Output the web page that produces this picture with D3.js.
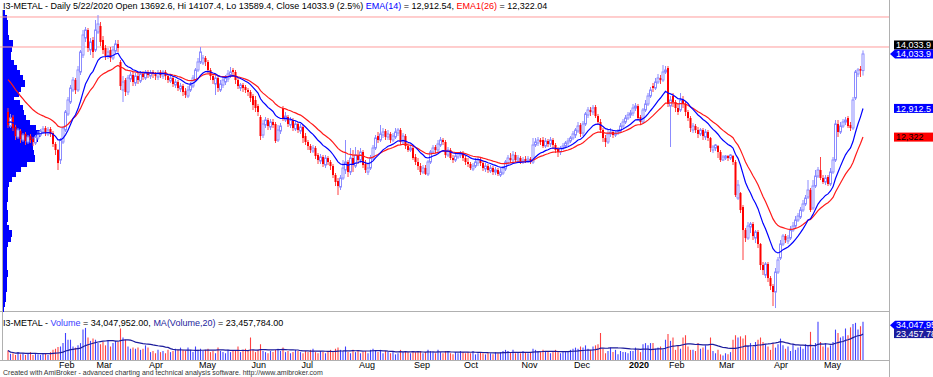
<!DOCTYPE html>
<meta charset="utf-8">
<head>
	<title>I3-METAL - Daily</title>
</head>

<style>
body{
	margin: 0;
	background: #fff;
}
svg{
	display: block;
	font-family: "Liberation Sans", Arial, sans-serif;
}
</style>

<body>

<svg id="chart" width="933" height="377"></svg>

<script src="https://cdnjs.cloudflare.com/ajax/libs/d3/7.8.5/d3.min.js"></script>
<script>

// trading days per month, Jan 2019 .. May 2020
var monthNames = ['Jan', 'Feb', 'Mar', 'Apr', 'May', 'Jun', 'Jul', 'Aug', 'Sep', 'Oct', 'Nov', 'Dec',
	'2020', 'Feb', 'Mar', 'Apr', 'May'];
var monthDays = [22, 15, 21, 20, 21, 20, 23, 22, 20, 23, 21, 22, 16, 20, 22, 20, 15];

var openP = [
	12839,12550,12736,12530,12324,12447,12262,12386,12221,12344,12283,12200,12303,12365,12427,12509,12386,12489,12406,12180,12056,11850,
	12221,12468,12798,13045,13292,13498,13292,13663,14013,14363,14528,14116,14322,14116,14487,
	14610,14322,14157,13992,14116,13951,14095,14240,13869,13292,13498,13251,13519,13601,13436,13580,13477,13622,13539,13663,13580,
	13663,13622,13560,13663,13580,13663,13580,13477,13539,13395,13457,13313,13374,13271,13168,13292,13374,13498,13704,13869,
	13848,13951,13869,13704,13580,13416,13539,13292,13395,13457,13519,13601,13704,13663,13498,13333,13395,13354,13292,13251,13168,
	13086,12962,12736,12365,12571,12674,12530,12633,12592,12262,12447,12921,12674,12736,12571,12674,12489,12592,12447,12530,
	12344,12221,12138,12035,12097,11953,11829,11912,11747,11891,11809,11726,11541,11417,11294,11479,11644,11809,11603,11891,11726,11953,11850,
	12015,11768,11603,11685,11891,12097,12344,12262,12365,12447,12324,12386,12262,12324,12406,12468,12221,12344,12138,12056,12097,11912,
	11809,11726,11603,11685,11562,11809,12015,12118,12056,12159,12262,12221,11953,12056,11891,11850,11912,11953,11994,11891,
	11809,11768,11665,11726,11788,11850,11788,11665,11726,11623,11685,11603,11644,11541,11582,11665,11788,11891,11850,11953,11850,11891,11809,
	11871,11829,11871,11809,12159,12200,12262,12262,12138,12241,12180,12262,12159,12077,12015,12097,12138,12200,12241,12303,12365,
	12447,12571,12406,12592,12777,12880,12839,12942,12756,12633,12468,12303,12221,12386,12427,12365,12406,12447,12550,12633,12715,12777,
	12818,12921,12962,12736,12633,12880,13004,13168,13374,13333,13457,13539,13498,13663,13745,12962,
	13168,13045,12921,12880,13086,13004,12839,12715,12468,12550,12468,12386,12468,12324,12427,12303,12056,12097,12138,12015,
	11850,11891,11932,11891,11932,11809,11067,11170,10882,10408,10243,10470,10532,10243,10367,10120,9687,9481,9708,9419,9254,9131,
	9543,9831,10120,10284,10181,10243,10408,10490,10614,10676,10820,10944,11088,11232,10861,11314,11520,11644,11479,11397,
	11500,11356,11603,11850,12592,12427,12550,12633,12715,12571,12509,13127,13622,13725,13692.6
];
var highP = [
	12921,12798,12777,12592,12509,12489,12406,12427,12365,12386,12324,12365,12447,12489,12550,12550,12530,12530,12447,12221,12077,12303,
	12550,12880,13148,13395,13560,13539,13786,14116,14528,14590,14569,14363,14384,14734,14837,
	14693,14404,14219,14157,14178,14198,14322,14322,13910,13580,13539,13601,13663,13663,13642,13642,13683,13683,13704,13704,13704,
	13704,13663,13704,13704,13704,13704,13622,13601,13580,13519,13498,13436,13416,13333,13374,13457,13601,13745,13951,14178,
	14013,13992,13910,13745,13622,13622,13580,13498,13560,13601,13704,13766,13745,13704,13539,13436,13436,13395,13333,13292,13210,
	13168,13004,12777,12674,12736,12715,12695,12695,12633,12571,12612,12962,12839,12777,12736,12715,12653,12633,12592,12571,
	12406,12262,12180,12159,12138,11994,11974,11953,11953,11932,11850,11768,11582,11479,11541,11850,12262,11850,12097,12056,12118,12056,12097,
	12056,11850,11768,11953,12159,12365,12427,12571,12509,12489,12468,12427,12406,12509,12509,12509,12406,12386,12200,12159,12138,11974,
	11891,11788,11747,11747,11850,12056,12159,12159,12262,12324,12303,12262,12118,12097,11953,11974,12015,12035,12035,11932,
	11891,11809,11788,11891,11912,11891,11850,11788,11768,11747,11726,11706,11685,11685,11726,11850,11953,11994,12035,12015,11953,11932,11912,
	11932,11932,11912,12303,12303,12324,12303,12324,12303,12283,12324,12303,12200,12118,12138,12200,12241,12303,12344,12447,12509,
	12633,12612,12653,12839,12942,12942,12983,12983,12798,12695,12509,12365,12468,12509,12468,12447,12489,12612,12695,12777,12839,12880,
	13004,13024,13004,12777,12921,13086,13230,13354,13436,13539,13622,13601,13807,13786,13786,13168,
	13230,13086,13004,13230,13168,13045,12880,12756,12612,12592,12530,12509,12509,12489,12468,12324,12159,12180,12159,12056,
	11953,11953,11953,11974,11953,11850,11438,11191,10923,10449,10573,10573,10573,10408,10408,10140,9749,9749,9749,9460,9296,9625,
	9852,10202,10326,10326,10305,10490,10573,10696,10758,10882,11026,11129,11438,11273,11438,11644,11706,11912,11541,11541,
	11541,11685,11912,12674,12674,12633,12695,12736,12756,12633,13148,13704,13745,13786,14107.4
];
var lowP = [
	12509,12509,12447,12262,12283,12200,12221,12159,12180,12200,12138,12159,12262,12324,12386,12344,12344,12324,12118,11953,11644,11768,
	12180,12427,12756,13004,13251,13210,13251,13601,13951,14281,14075,14013,13951,14075,14446,
	14198,14034,13910,13931,13869,13910,14034,14075,13292,13045,13168,13189,13457,13374,13374,13416,13436,13498,13498,13539,13519,
	13539,13498,13498,13539,13519,13498,13436,13436,13354,13333,13271,13251,13168,13127,13127,13251,13333,13457,13663,13828,
	13807,13786,13642,13498,13416,13189,13251,13251,13333,13395,13457,13539,13580,13416,13313,13271,13251,13230,13168,13045,12880,
	12839,12756,12262,12303,12509,12468,12468,12509,12200,12221,12386,12653,12633,12530,12509,12447,12447,12406,12386,12200,
	12159,12056,11994,11994,11871,11768,11768,11706,11685,11747,11644,11479,11314,11129,11232,11438,11562,11500,11541,11603,11685,11768,11788,
	11685,11582,11541,11644,11850,12056,12200,12221,12303,12262,12262,12200,12221,12283,12344,12159,12180,12077,12015,12015,11850,11747,
	11644,11541,11562,11541,11520,11768,11974,11994,12015,12118,12159,11891,11912,11850,11788,11809,11871,11891,11829,11747,
	11706,11644,11623,11685,11726,11726,11623,11603,11582,11582,11541,11541,11520,11500,11541,11623,11747,11788,11809,11809,11809,11768,11768,
	11788,11788,11768,11768,12118,12138,12159,12097,12097,12118,12118,12077,11994,11912,11953,12056,12097,12138,12200,12262,12303,
	12406,12324,12344,12550,12715,12756,12777,12715,12571,12406,12221,12118,12180,12324,12303,12324,12365,12406,12509,12592,12674,12715,
	12756,12859,12674,12571,12592,12839,12962,13127,13251,13292,13416,13416,13457,13622,12942,12118,
	12942,12839,12777,12839,12921,12756,12653,12427,12406,12406,12303,12344,12262,12262,12241,12015,11994,12035,11891,11809,
	11829,11850,11829,11850,11747,11088,11026,10758,9790,10161,10202,10346,10202,10140,10037,9584,9481,9419,9337,9172,8842,8801,
	9502,9790,10078,10140,10120,10202,10367,10449,10573,10635,10779,10902,11047,10779,10820,11273,11479,11438,11356,11335,
	11314,11314,11562,11809,12324,12386,12509,12571,12509,12447,12468,13086,13560,13560,13589.4
];
var closeP = [
	12571,12715,12509,12344,12468,12283,12365,12241,12324,12262,12221,12324,12386,12447,12489,12406,12468,12386,12180,12056,11788,12262,
	12509,12839,13086,13333,13498,13292,13704,14075,14425,14528,14157,14281,14075,14528,14652,
	14281,14116,13992,14075,13951,14116,14240,14157,13374,13457,13251,13539,13601,13457,13580,13498,13622,13560,13663,13601,13642,
	13622,13580,13642,13601,13663,13580,13498,13539,13416,13457,13333,13374,13251,13189,13292,13395,13539,13704,13869,14075,
	13951,13869,13704,13580,13498,13539,13333,13416,13498,13539,13622,13663,13663,13498,13374,13395,13333,13292,13251,13127,12983,
	12921,12839,12344,12592,12674,12550,12633,12571,12241,12468,12550,12715,12756,12592,12674,12509,12592,12468,12530,12303,
	12221,12138,12056,12097,11932,11850,11912,11768,11891,11809,11726,11541,11397,11314,11479,11685,11809,11603,11891,11747,11953,11850,12015,
	11747,11644,11685,11891,12097,12303,12262,12386,12427,12324,12386,12262,12344,12427,12468,12221,12344,12138,12056,12097,11891,11809,
	11726,11603,11685,11562,11809,12015,12097,12056,12180,12262,12221,11953,12056,11891,11850,11932,11974,11994,11891,11809,
	11768,11685,11726,11809,11850,11788,11685,11726,11644,11685,11603,11644,11562,11603,11685,11809,11891,11850,11953,11850,11891,11809,11850,
	11829,11871,11809,12159,12221,12262,12221,12138,12241,12180,12262,12159,12056,12015,12097,12138,12200,12241,12303,12386,12468,
	12550,12386,12592,12798,12880,12839,12921,12756,12633,12468,12303,12221,12386,12427,12365,12406,12447,12550,12633,12715,12777,12818,
	12921,12962,12715,12633,12880,13004,13168,13292,13333,13457,13539,13498,13663,13704,13004,13086,
	13045,12921,12839,13086,13004,12839,12715,12509,12550,12468,12386,12468,12344,12427,12303,12097,12118,12159,12015,11850,
	11912,11932,11891,11953,11809,11129,11335,10820,10408,10243,10490,10532,10284,10367,10120,9687,9584,9708,9419,9254,9131,9543,
	9790,10120,10284,10202,10243,10408,10490,10614,10696,10820,10944,11067,11232,10820,11314,11520,11644,11479,11397,11479,
	11356,11603,11850,12592,12427,12550,12633,12674,12550,12509,13086,13663,13704,13692,14033.9
];
// volume, millions of shares
var volume = [
	8.5,5.5,6,4.5,7,5,6,4.5,5.5,7,4.5,6,5,4.5,6,5.5,4.5,7,9,10,11.5,12,
	15,24,18,18,12,11,13,15,27,28.5,20,17,19,18,15,
	14,16,13,17,12,15,17,16,28,20,18,12,10,11,10,11,9,10,13,11,7,
	8,6,9,7,8,6,9,7,8,10,9,11,9,8,11,9,7,12,9,10,
	8,9,10,7,8,6,11,8,7,6,9,7,8,8,12,7,9,10,8,20,9,
	7,9,14,8,7,6,8,7,9,10,8,11,7,8,6,7,9,8,7,6,
	8,7,9,10,7,6,8,7,6,8,9,8,10,11,9,8,12,7,6,9,7,8,6,
	7,8,6,9,10,8,7,9,6,8,7,6,7,5,6,9,7,8,7,6,8,7,
	7,8,6,7,9,8,7,6,9,7,6,8,7,6,5,7,6,8,7,6,
	7,6,8,5,6,7,6,5,7,6,5,7,6,7,8,9,8,7,9,6,7,6,8,
	7,6,7,10,9,8,7,9,8,7,6,8,9,7,6,7,8,7,9,10,11,
	10,12,11,13,10,9,12,13,14,24,10,6,8,11,7,9,5,8,7,7,6,8,
	8,11,9,7,14,15,13,15,15,10,11,12,9,18,23,17,
	20,9,13,10,20,22,12,9,9,8,15,10,11,13,9,20,8,6,9,5,
	4,6,5,7,18,22,20,21,19,22,13,15,12,16,18,20,16,14,12,9,15,11,
	14,19,13,10,12,8,14,9,11,12,10,14,13,25,11,15,34,16,12,15,
	11,13,16,27,24,20,21,28,22,29,32,33,27,30,34.048
];

// left volume-at-price profile, 60 equal price bins from top of pane to bottom
var profileVol = [2,4,5,5,5,6,10,9,8,8, 11,14,17,20,22,18,16,11,17,20,
	21,23,27,33,37,35,30,30,31,32, 24,18,13,9,6,5,5,5,4,4,
	5,5,4,6,9,8,5,4,4,4, 4,4,5,4,4,4,3,3,2,1];

var hLines = [14796, 14178];
var emaSeed14 = 12630, emaSeed26 = 13580;
var ema14Last = 12912.54, ema26Last = 12322.04;

var n = closeP.length;
var bars = d3.range(n).map(function(i){
	return {i: i, o: openP[i], h: highP[i], l: lowP[i], c: closeP[i], v: volume[i] || 0};
});

function ema(vals, period, seed){
	var a = 2 / (period + 1), prev = seed;
	return vals.map(function(v){
		prev = prev + a * (v - prev);
		return prev;
	});
}
var ema14 = ema(closeP, 14, emaSeed14);
var ema26 = ema(closeP, 26, emaSeed26);
var volMa = volume.map(function(v, i){
	return d3.mean(volume.slice(Math.max(0, i - 19), i + 1));
});

var svg = d3.select('#chart');

var x = d3.scaleLinear().domain([0, n - 1]).range([8, 863]);
var y = d3.scaleLinear().domain([8740, 14940]).range([311, 10]);
var yv = d3.scaleLinear().domain([0, 37.3]).range([360, 318]);
var xp = d3.scaleLinear().domain([0, d3.max(profileVol)]).range([3, 40]);

// frame
svg.append('line').attr('x1', 0).attr('x2', 889).attr('y1', 311.5).attr('y2', 311.5).attr('stroke', '#b0b0b0');
svg.append('line').attr('x1', 0).attr('x2', 889).attr('y1', 360.5).attr('y2', 360.5).attr('stroke', '#b0b0b0');
svg.append('line').attr('x1', 889.5).attr('x2', 889.5).attr('y1', 0).attr('y2', 377).attr('stroke', '#b0b0b0');
svg.append('line').attr('x1', 2.5).attr('x2', 2.5).attr('y1', 10).attr('y2', 360).attr('stroke', '#b0b0b0');

// volume profile
var binH = (y.domain()[1] - y.domain()[0]) / profileVol.length;
svg.append('g').attr('shape-rendering', 'crispEdges').selectAll('rect')
	.data(profileVol)
	.enter()
	.append('rect')
	.attr('x', 3)
	.attr('y', function(d, k){ return Math.floor(y(y.domain()[1] - k * binH)); })
	.attr('height', function(d, k){ return Math.ceil(y(y.domain()[1] - (k + 1) * binH) - y(y.domain()[1] - k * binH)) + 1; })
	.attr('width', function(d){ return Math.round(xp(d) - 3); })
	.attr('fill', '#0000ff');

// horizontal study lines
svg.append('g').selectAll('line')
	.data(hLines)
	.enter()
	.append('line')
	.attr('x1', 0).attr('x2', 889)
	.attr('y1', function(d){ return y(d); })
	.attr('y2', function(d){ return y(d); })
	.attr('stroke', '#ff9c9c');

// candles
var cg = svg.append('g');
cg.selectAll('line')
	.data(bars)
	.enter()
	.append('line')
	.attr('x1', function(d){ return x(d.i); })
	.attr('x2', function(d){ return x(d.i); })
	.attr('y1', function(d){ return y(d.h); })
	.attr('y2', function(d){ return y(d.l); })
	.attr('stroke', function(d){ return d.c >= d.o ? '#8c8cff' : '#ff4040'; });
cg.selectAll('rect')
	.data(bars)
	.enter()
	.append('rect')
	.attr('x', function(d){ return x(d.i) - 1; })
	.attr('width', 2)
	.attr('y', function(d){ return y(Math.max(d.o, d.c)); })
	.attr('height', function(d){ return Math.max(0.8, Math.abs(y(d.o) - y(d.c))); })
	.attr('fill', function(d){ return d.c >= d.o ? '#ffffff' : '#ff0000'; })
	.attr('stroke', function(d){ return d.c >= d.o ? '#8c8cff' : 'none'; })
	.attr('stroke-width', 1);

// moving averages
var lineGen = d3.line()
	.x(function(d, i){ return x(i); })
	.y(function(d){ return y(d); });
svg.append('path').datum(ema26).attr('d', lineGen).attr('fill', 'none').attr('stroke', '#ff1a1a').attr('stroke-width', 1.2);
svg.append('path').datum(ema14).attr('d', lineGen).attr('fill', 'none').attr('stroke', '#0000ff').attr('stroke-width', 1.2);

// volume bars
svg.append('g').selectAll('line')
	.data(bars)
	.enter()
	.append('line')
	.attr('x1', function(d){ return x(d.i); })
	.attr('x2', function(d){ return x(d.i); })
	.attr('y1', yv(0))
	.attr('y2', function(d){ return yv(d.v); })
	.attr('stroke', function(d){ return d.c >= d.o ? '#0000ff' : '#ff0000'; })
	.attr('stroke-width', 1.1)
	.attr('stroke-opacity', 0.75);
svg.append('path').datum(volMa)
	.attr('d', d3.line().x(function(d, i){ return x(i); }).y(function(d){ return yv(d); }))
	.attr('fill', 'none').attr('stroke', '#1c1c9c').attr('stroke-width', 1.2);

// titles
var t1 = svg.append('text').attr('x', 3).attr('y', 9).style('font-size', '9px').attr('fill', '#000');
t1.append('tspan').text('I3-METAL - Daily 5/22/2020 Open 13692.6, Hi 14107.4, Lo 13589.4, Close 14033.9 (2.5%) ');
t1.append('tspan').attr('fill', '#0000ff').text('EMA(14)');
t1.append('tspan').text(' = 12,912.54, ');
t1.append('tspan').attr('fill', '#ff0000').text('EMA1(26)');
t1.append('tspan').text(' = 12,322.04');

var t2 = svg.append('text').attr('x', 3).attr('y', 326).style('font-size', '9px').attr('fill', '#000');
t2.append('tspan').text('I3-METAL - ');
t2.append('tspan').attr('fill', '#3b3bff').text('Volume');
t2.append('tspan').text(' = 34,047,952.00, ');
t2.append('tspan').attr('fill', '#1c1c9c').text('MA(Volume,20)');
t2.append('tspan').text(' = 23,457,784.00');

// month axis
var starts = [];
monthDays.reduce(function(acc, d, k){ starts.push({k: k, i: acc}); return acc + d; }, 0);
svg.append('g').selectAll('text')
	.data(starts.slice(1))
	.enter()
	.append('text')
	.attr('x', function(d){ return x(d.i) - 4; })
	.attr('y', 368)
	.style('font-size', '9px')
	.style('font-weight', function(d){ return monthNames[d.k] === '2020' ? 'bold' : 'normal'; })
	.text(function(d){ return monthNames[d.k]; });

svg.append('text').attr('x', 3).attr('y', 375).style('font-size', '7px').attr('fill', '#333')
	.text('Created with AmiBroker - advanced charting and technical analysis software. http://www.amibroker.com');

// right side value labels
function valueLabel(yy, txt, bg, fg, arrow){
	var g = svg.append('g');
	if(arrow){
		g.append('path')
			.attr('d', 'M' + 890 + ',' + yy + 'L' + 895 + ',' + (yy - 4.5) + 'L940,' + (yy - 4.5) + 'L940,' + (yy + 4.5) + 'L895,' + (yy + 4.5) + 'Z')
			.attr('fill', bg);
	} else {
		g.append('rect').attr('x', 894).attr('y', yy - 4.5).attr('width', 46).attr('height', 9).attr('fill', bg);
	}
	g.append('text').attr('x', 896).attr('y', yy + 3.3).style('font-size', '9px').attr('fill', fg).text(txt);
}
valueLabel(y(closeP[n - 1]) - 9, d3.format(',.1f')(closeP[n - 1]), '#000000', '#ffffff', false);
valueLabel(y(closeP[n - 1]), d3.format(',.1f')(closeP[n - 1]), '#0000ff', '#ffffff', true);
valueLabel(y(ema14Last), d3.format(',.1f')(ema14Last), '#0000ff', '#ffffff', false);
valueLabel(y(ema26Last), '12,322', '#ff0000', '#000000', false);
valueLabel(yv(volume[n - 1]) + 3.5, '34,047,952', '#0000ff', '#ffffff', true);
valueLabel(yv(23.458), '23,457,784', '#1c1c9c', '#ffffff', false);

</script>

</body>
</html>
